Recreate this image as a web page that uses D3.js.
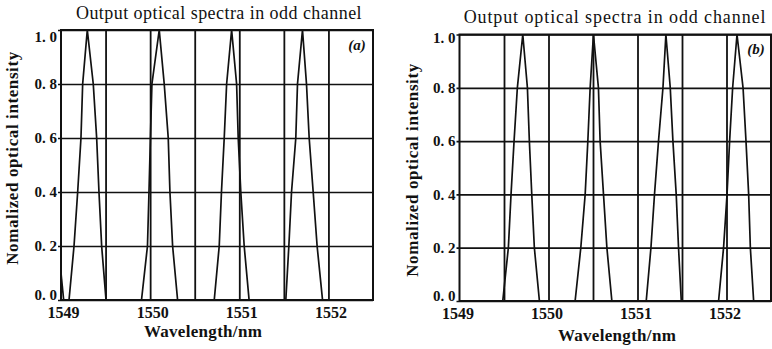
<!DOCTYPE html>
<html>
<head>
<meta charset="utf-8">
<script src="https://cdn.jsdelivr.net/npm/d3@7"></script>
<style>
  body { margin: 0; background: #fff; }
  svg text { font-family: "Liberation Serif", "Times New Roman", serif; fill: #111; }
</style>
</head>
<body>
<svg id="chart" width="772" height="349"></svg>
<script>
// axis ticks
const wavelengthTicks = [1549, 1550, 1551, 1552];
const intensityTicks = [0, 0.2, 0.4, 0.6, 0.8, 1.0];
// channel boundaries (vertical grid), nm
const channelEdges = [1549.5, 1550, 1550.5, 1551, 1551.5, 1552];
// intensity of each traced point: up one side of a peak and down the other
const traceLevels = [0, 0.2, 0.4, 0.6, 0.8, 1.0, 0.8, 0.6, 0.4, 0.2, 0];

// (a) wavelength (nm) of each peak at traceLevels
const spectraA = [
  [1549.090, 1549.146, 1549.187, 1549.224, 1549.243, 1549.295, 1549.362, 1549.400, 1549.426, 1549.456, 1549.505],
  [1549.903, 1549.970, 1549.987, 1550.003, 1550.020, 1550.102, 1550.158, 1550.203, 1550.222, 1550.252, 1550.308],
  [1550.719, 1550.775, 1550.800, 1550.831, 1550.858, 1550.914, 1550.970, 1550.988, 1551.017, 1551.055, 1551.110],
  [1551.522, 1551.556, 1551.586, 1551.634, 1551.653, 1551.709, 1551.754, 1551.784, 1551.829, 1551.873, 1551.934]
];
// (a) tail of the neighbouring peak at the left edge: [nm, intensity]
const tailA = [[1549.0, 0.10], [1549.03, 0]];

// (b) wavelength (nm) of each peak at traceLevels
const spectraB = [
  [1549.486, 1549.549, 1549.579, 1549.613, 1549.650, 1549.711, 1549.763, 1549.785, 1549.812, 1549.841, 1549.898],
  [1550.299, 1550.363, 1550.412, 1550.442, 1550.468, 1550.505, 1550.561, 1550.580, 1550.618, 1550.656, 1550.712],
  [1551.098, 1551.151, 1551.191, 1551.236, 1551.286, 1551.319, 1551.368, 1551.398, 1551.435, 1551.461, 1551.492],
  [1551.911, 1551.967, 1552.006, 1552.035, 1552.069, 1552.118, 1552.186, 1552.219, 1552.249, 1552.268, 1552.305]
];

const titleText = "Output optical spectra in odd channel";
const xLabelText = "Wavelength/nm";
const yLabelText = "Nomalized optical intensity";

const svg = d3.select("#chart");

function drawPanel(p) {
  const w = p.right - p.left, h = p.bottom - p.top;
  const x = d3.scaleLinear().domain([1549, 1552.5]).range([0, w]);
  const y = d3.scaleLinear().domain([0, 1]).range([h, 0]);

  const g = svg.append("g").attr("transform", "translate(" + p.left + "," + p.top + ")");

  // clip
  g.append("clipPath").attr("id", "clip" + p.id)
    .append("rect").attr("width", w).attr("height", h);

  // horizontal grid + y tick labels
  const yAxis = g.append("g")
    .call(d3.axisLeft(y).tickValues(intensityTicks).tickSize(-w).tickPadding(4)
      .tickFormat(d => d.toFixed(1).replace(".", ". ")));
  yAxis.select(".domain").remove();
  yAxis.selectAll("line").attr("x1", -3).attr("stroke", "#111").attr("stroke-width", 1.7);
  yAxis.selectAll("text").attr("font-size", 15).attr("font-weight", "bold").attr("fill", "#111")
    .attr("dy", d => d === 0 ? "-0.05em" : (d === 1 ? p.topTickDy : "0.32em"));

  // vertical grid at channel edges
  const vGrid = g.append("g").attr("transform", "translate(0," + h + ")")
    .call(d3.axisBottom(x).tickValues(channelEdges).tickSize(-h).tickFormat(""));
  vGrid.select(".domain").remove();
  vGrid.selectAll("line").attr("stroke", "#111").attr("stroke-width", 1.8);

  // x tick labels
  const xAxis = g.append("g").attr("transform", "translate(0," + h + ")")
    .call(d3.axisBottom(x).tickValues(wavelengthTicks).tickSize(0).tickPadding(7).tickFormat(d3.format("d")));
  xAxis.select(".domain").remove();
  xAxis.selectAll("text").attr("font-size", 16).attr("font-weight", "bold").attr("fill", "#111")
    .attr("dx", p.xTickDx);

  // spectra
  const line = d3.line().x(d => x(d[0])).y(d => y(d[1]));
  const plot = g.append("g").attr("clip-path", "url(#clip" + p.id + ")");
  plot.selectAll("path.peak")
    .data(p.spectra.map(row => row.map((nm, i) => [nm, traceLevels[i]])))
    .enter().append("path")
    .attr("class", "peak")
    .attr("d", line)
    .attr("fill", "none").attr("stroke", "#111").attr("stroke-width", 1.7)
    .attr("stroke-linejoin", "miter");
  if (p.tail) {
    plot.append("path").attr("d", line(p.tail))
      .attr("fill", "none").attr("stroke", "#111").attr("stroke-width", 1.7);
  }

  // frame
  g.append("rect").attr("width", w).attr("height", h)
    .attr("fill", "none").attr("stroke", "#111").attr("stroke-width", 2);

  // panel tag
  g.append("text").attr("x", p.tagX - p.left).attr("y", p.tagY - p.top)
    .attr("text-anchor", "middle").attr("font-size", 15).attr("font-style", "italic").attr("font-weight", "bold")
    .text(p.tag);

  // title
  svg.append("text").attr("x", p.titleX).attr("y", p.titleY)
    .attr("text-anchor", "middle").attr("font-size", 18)
    .style("letter-spacing", p.titleSpacing)
    .text(titleText);

  // x label
  svg.append("text").attr("x", p.xLabelX).attr("y", p.xLabelY)
    .attr("text-anchor", "middle").attr("font-size", 17).attr("font-weight", "bold")
    .style("letter-spacing", "0.3px")
    .text(xLabelText);

  // y label
  svg.append("text")
    .attr("transform", "translate(" + p.yLabelX + "," + p.yLabelY + ") rotate(-90)")
    .attr("text-anchor", "middle").attr("font-size", 17).attr("font-weight", "bold")
    .style("letter-spacing", "0.6px")
    .text(yLabelText);
}

drawPanel({
  id: "a", left: 61, right: 373, top: 30, bottom: 300,
  spectra: spectraA, tail: tailA, tag: "(a)", tagX: 357, tagY: 50, topTickDy: "0.75em", xTickDx: 2,
  titleX: 219, titleY: 19, titleSpacing: "0.45px", xLabelX: 203, xLabelY: 337, yLabelX: 18, yLabelY: 158
});
drawPanel({
  id: "b", left: 459.5, right: 771, top: 34.5, bottom: 301,
  spectra: spectraB, tail: null, tag: "(b)", tagX: 756, tagY: 54, topTickDy: "0.5em", xTickDx: -2,
  titleX: 615, titleY: 23, titleSpacing: "0.9px", xLabelX: 617, xLabelY: 341, yLabelX: 418, yLabelY: 170
});
</script>
</body>
</html>
